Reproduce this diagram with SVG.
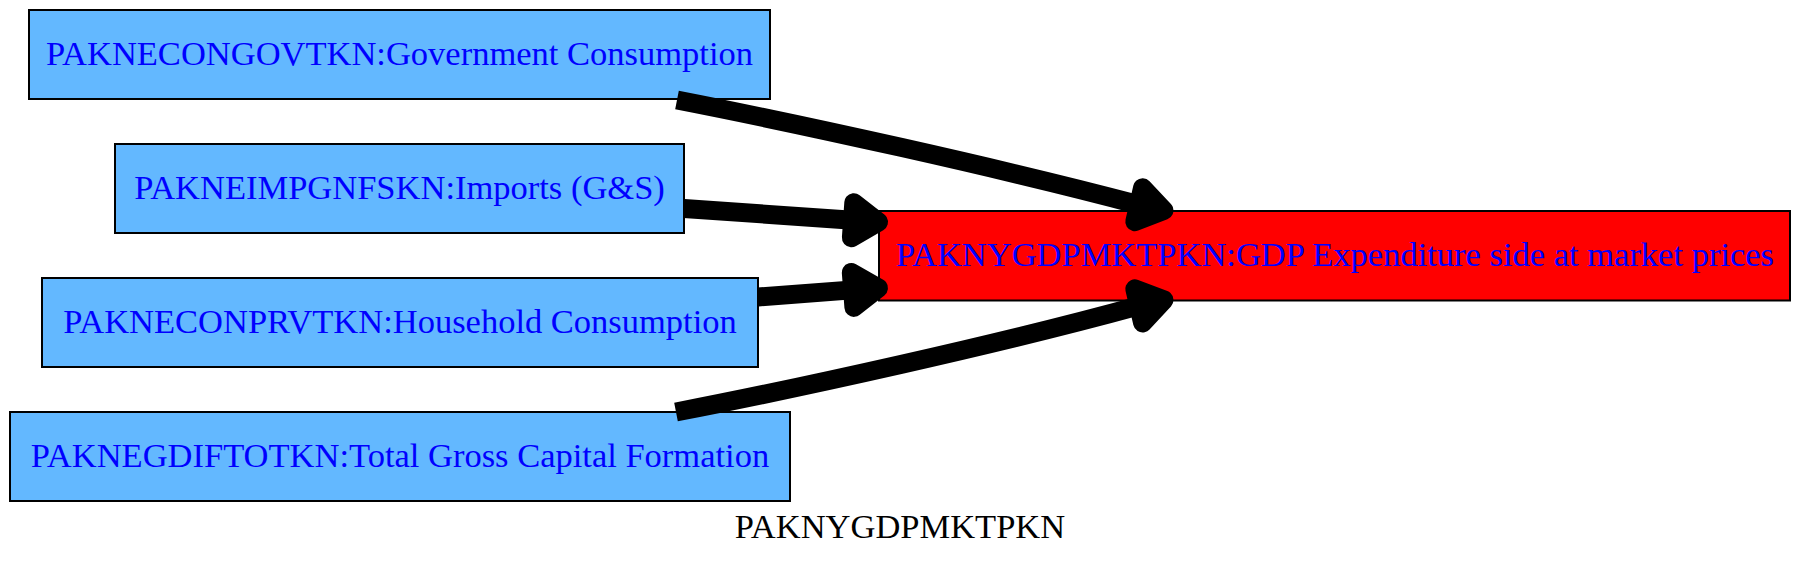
<svg xmlns="http://www.w3.org/2000/svg" width="1800" height="569" viewBox="0 0 1800 569">
<style>
.node rect{stroke:#000;stroke-width:2}
.src rect{fill:#63b8ff}
.dst rect{fill:#ff0000}
.node text{font-family:"Liberation Serif","Times New Roman",serif;font-size:34.5px;fill:#0000ff;text-anchor:middle}
.edge path{fill:none;stroke:#000;stroke-width:19;stroke-linecap:butt}
.edge polygon{fill:#000;stroke:#000;stroke-width:19;stroke-linejoin:round}
.title{font-family:"Liberation Serif","Times New Roman",serif;font-size:34.5px;fill:#000;text-anchor:middle}
</style>
<rect x="0" y="0" width="1800" height="569" fill="#ffffff"/>
<g class="node src" id="PAKNECONGOVTKN">
<rect x="29" y="10" width="741" height="89"/>
<text x="399.5" y="65">PAKNECONGOVTKN:Government Consumption</text>
</g>
<g class="node src" id="PAKNEIMPGNFSKN">
<rect x="115" y="144" width="569" height="89"/>
<text x="399.5" y="199">PAKNEIMPGNFSKN:Imports (G&amp;S)</text>
</g>
<g class="node src" id="PAKNECONPRVTKN">
<rect x="42" y="278" width="716" height="89"/>
<text x="400" y="333">PAKNECONPRVTKN:Household Consumption</text>
</g>
<g class="node src" id="PAKNEGDIFTOTKN">
<rect x="10" y="412" width="780" height="89"/>
<text x="400" y="466.5">PAKNEGDIFTOTKN:Total Gross Capital Formation</text>
</g>
<g class="node dst" id="PAKNYGDPMKTPKN">
<rect x="879" y="211" width="911" height="89.5"/>
<text x="1335" y="266">PAKNYGDPMKTPKN:GDP Expenditure side at market prices</text>
</g>
<g id="edges">
<g class="edge" id="e_gov">
<path d="M677,100 C800,124 1000,168 1138.7,204.7"/>
<polygon points="1164,210.5 1142.6,187.7 1134.8,221.7"/>
</g>
<g class="edge" id="e_imp">
<path d="M684,208.5 L852.6,220.2"/>
<polygon points="878.5,222 853.8,202.7 851.4,237.7"/>
</g>
<g class="edge" id="e_prv">
<path d="M758,297 L852.6,289.9"/>
<polygon points="878.5,288 851.3,272.4 853.9,307.4"/>
</g>
<g class="edge" id="e_gcf">
<path d="M676,412 C800,388 1000,344 1138.7,305.9"/>
<polygon points="1164,300 1134.8,288.9 1142.6,322.9"/>
</g>
</g>
<text class="title" x="900" y="538">PAKNYGDPMKTPKN</text>
</svg>
